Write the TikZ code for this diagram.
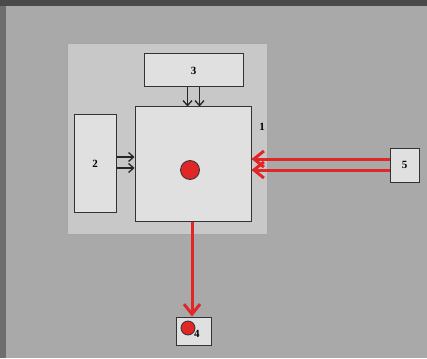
\documentclass[tikz,border=0pt]{standalone}
\usepackage{fontspec}
\setmainfont{Liberation Serif}
\usetikzlibrary{arrows.meta}
\definecolor{panelgray}{HTML}{A9A9A9}
\definecolor{framedark}{HTML}{4A4A4A}
\definecolor{frameside}{HTML}{6E6E6E}
\definecolor{unitgray}{HTML}{C8C8C8}
\definecolor{boxfill}{HTML}{E0E0E0}
\definecolor{flowred}{HTML}{E02626}
\tikzset{
  block/.style={draw=black!80, fill=boxfill, line width=1pt, inner sep=0pt},
  feed/.style={black!85, line width=1.3pt, -{Straight Barb[length=5pt, width=9pt]}},
  flow/.style={flowred, line width=3pt, -{Straight Barb[length=10pt, width=16pt]}},
  spot/.style={draw=black!80, fill=flowred, line width=0.8pt}
}
\begin{document}
\begin{tikzpicture}[x=1pt, y=-1pt, every node/.style={font=\fontsize{11}{13}\selectfont\bfseries}]
	\useasboundingbox (0,0) rectangle (427,358);
	% background and frame
	\fill[panelgray] (0,0) rectangle (427,358);
	\fill[frameside] (0,0) rectangle (6,358);
	\fill[framedark] (0,0) rectangle (427,6);
	% enclosing unit
	\draw[fill=unitgray, draw=black!35, line width=0.6pt] (67,43) rectangle (267,234);
	% blocks
	\node[block, minimum width=116pt, minimum height=114pt] (b1) at (193,164) {};
	\node[block, minimum width=42pt, minimum height=97pt] (b2) at (95,163.5) {2};
	\node[block, minimum width=99pt, minimum height=33pt] (b3) at (193.5,70.5) {3};
	\node[block, minimum width=29pt, minimum height=34pt] (b5) at (404.5,165) {5};
	\node[block, minimum width=35pt, minimum height=28pt] (b4) at (193.5,331) {};
	\node (l1) at (262,127) {1};
	\node[anchor=west, inner sep=0pt] (l4) at (194,334) {4};
	% spots
	\fill[spot] (190,170) circle (9.5pt);
	\fill[spot] (188,328) circle (7pt);
	% feeds into block 1
	\draw[feed] ([xshift=-6pt]b3.south) -- ([xshift=-6pt]b3.south |- b1.north);
	\draw[feed] ([xshift=6pt]b3.south) -- ([xshift=6pt]b3.south |- b1.north);
	\draw[feed] ([yshift=-4.5pt]b2.east) -- ([yshift=-4.5pt]b2.east -| b1.west);
	\draw[feed] ([yshift=6.5pt]b2.east) -- ([yshift=6.5pt]b2.east -| b1.west);
	% red flows
	\draw[flow] ([yshift=-5pt]b5.west) -- ([yshift=-5pt]b5.west -| b1.east);
	\draw[flow] ([yshift=6pt]b5.west) -- ([yshift=6pt]b5.west -| b1.east);
	\draw[flow] ([xshift=-1pt]b1.south) -- ([xshift=-1pt]b1.south |- b4.north);
\end{tikzpicture}
\end{document}
